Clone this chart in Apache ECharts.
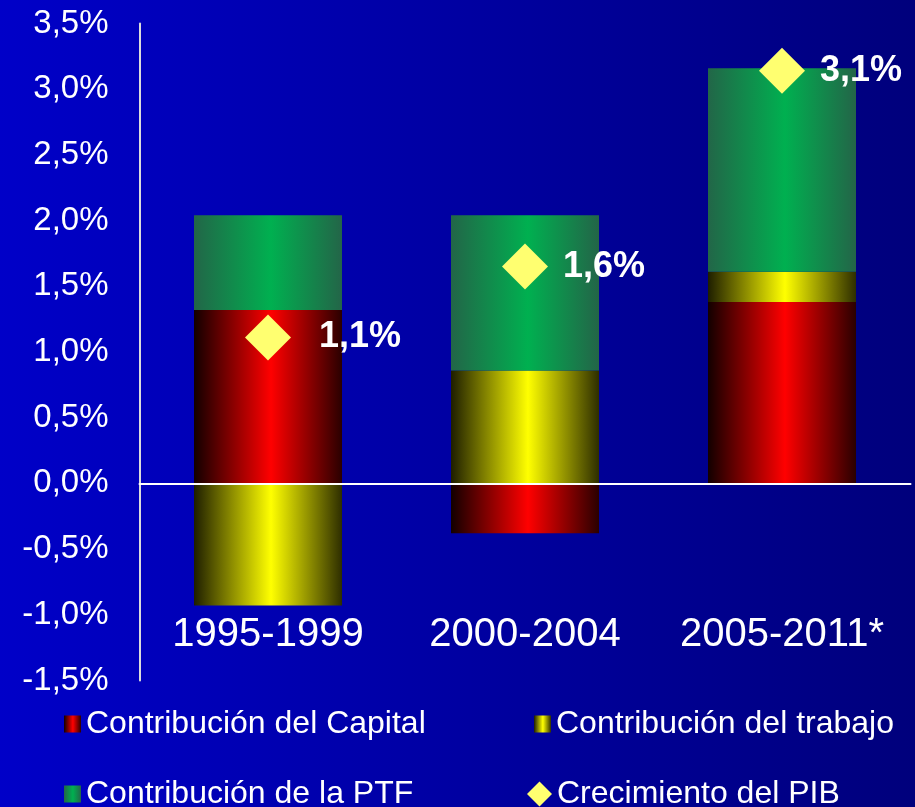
<!DOCTYPE html>
<html>
<head>
<meta charset="utf-8">
<script src="https://cdn.jsdelivr.net/npm/echarts@6/dist/echarts.min.js"></script>
<style>
html,body{margin:0;padding:0;}
#chart{width:915px;height:807px;}
</style>
</head>
<body>
<div id="chart"></div>
<script>
var categories = ['1995-1999', '2000-2004', '2005-2011*'];
var capital = [1.32, -0.38, 1.38];
var trabajo = [-0.93, 0.86, 0.23];
var ptf = [0.72, 1.18, 1.55];
var pib = [1.11, 1.65, 3.14];
var pibLabels = ['1,1%', '1,6%', '3,1%'];
var seriesNames = ['Contribución del Capital', 'Contribución del trabajo', 'Contribución de la PTF', 'Crecimiento del PIB'];

function hGrad(edgeL, mid, edgeR) {
  return {
    type: 'linear', x: 0, y: 0, x2: 1, y2: 0,
    colorStops: [
      { offset: 0, color: edgeL },
      { offset: 0.52, color: mid },
      { offset: 1, color: edgeR }
    ]
  };
}
var redGrad = hGrad('#120000', '#ff0000', '#2a0000');
var yellowGrad = hGrad('#1e1e00', '#ffff00', '#2e2e00');
var greenGrad = hGrad('#226648', '#00b050', '#236548');

var chart = echarts.init(document.getElementById('chart'));
var font = 'Liberation Sans, Arial, sans-serif';
var labelDist = [28, 15, 15];

function legendItem(name, left, top, icon, w, h) {
  return {
    data: [{ name: name, icon: icon }],
    left: left, top: top,
    itemWidth: w, itemHeight: h,
    padding: 0,
    selectedMode: false,
    textStyle: { color: '#ffffff', fontSize: 32, fontFamily: font }
  };
}

var option = {
  backgroundColor: {
    type: 'linear', x: 0, y: 0, x2: 1, y2: 0,
    colorStops: [
      { offset: 0, color: '#0000c8' },
      { offset: 1, color: '#00007c' }
    ]
  },
  animation: false,
  grid: { left: 139.5, right: 4.5, top: 23.5, bottom: 807 - 680.5, containLabel: false, outerBoundsMode: 'none' },
  legend: [
    legendItem(seriesNames[0], 64, 708, 'rect', 17, 17),
    legendItem(seriesNames[1], 534, 708, 'rect', 17, 17),
    legendItem(seriesNames[2], 64, 778, 'rect', 17, 17),
    legendItem(seriesNames[3], 527, 778, 'diamond', 25, 25)
  ],
  xAxis: [
    {
      type: 'category',
      data: categories,
      z: 5,
      axisLine: { onZero: true, lineStyle: { color: '#ffffff', width: 2 } },
      axisTick: { show: false },
      axisLabel: { show: false }
    },
    {
      type: 'category',
      data: categories,
      position: 'bottom',
      offset: -66,
      axisLine: { show: false, onZero: false },
      axisTick: { show: false },
      splitLine: { show: false },
      axisLabel: { color: '#ffffff', fontSize: 40, fontFamily: font, margin: 0, interval: 0, hideOverlap: false }
    }
  ],
  yAxis: {
    type: 'value',
    min: -1.5, max: 3.5, interval: 0.5,
    axisLine: { show: true, lineStyle: { color: '#dcdcdc', width: 2 } },
    axisTick: { show: false },
    splitLine: { show: false },
    axisLabel: {
      color: '#ffffff', fontSize: 33, fontFamily: font, margin: 31,
      formatter: function (v) { return v.toFixed(1).replace('.', ',') + '%'; }
    }
  },
  series: [
    { name: seriesNames[0], type: 'bar', stack: 'total', barWidth: 148, data: capital, itemStyle: { color: redGrad } },
    { name: seriesNames[1], type: 'bar', stack: 'total', barWidth: 148, data: trabajo, itemStyle: { color: yellowGrad } },
    { name: seriesNames[2], type: 'bar', stack: 'total', barWidth: 148, data: ptf, itemStyle: { color: greenGrad } },
    {
      name: seriesNames[3], type: 'scatter', symbol: 'diamond', symbolSize: 46, z: 6,
      itemStyle: { color: '#ffff70', opacity: 1 },
      data: pib.map(function (v, i) {
        return {
          value: v,
          label: {
            show: true, position: 'right', distance: labelDist[i],
            formatter: pibLabels[i],
            color: '#ffffff', fontSize: 36, fontWeight: 'bold', fontFamily: font, opacity: 1
          }
        };
      })
    }
  ]
};
chart.setOption(option);
</script>
</body>
</html>
